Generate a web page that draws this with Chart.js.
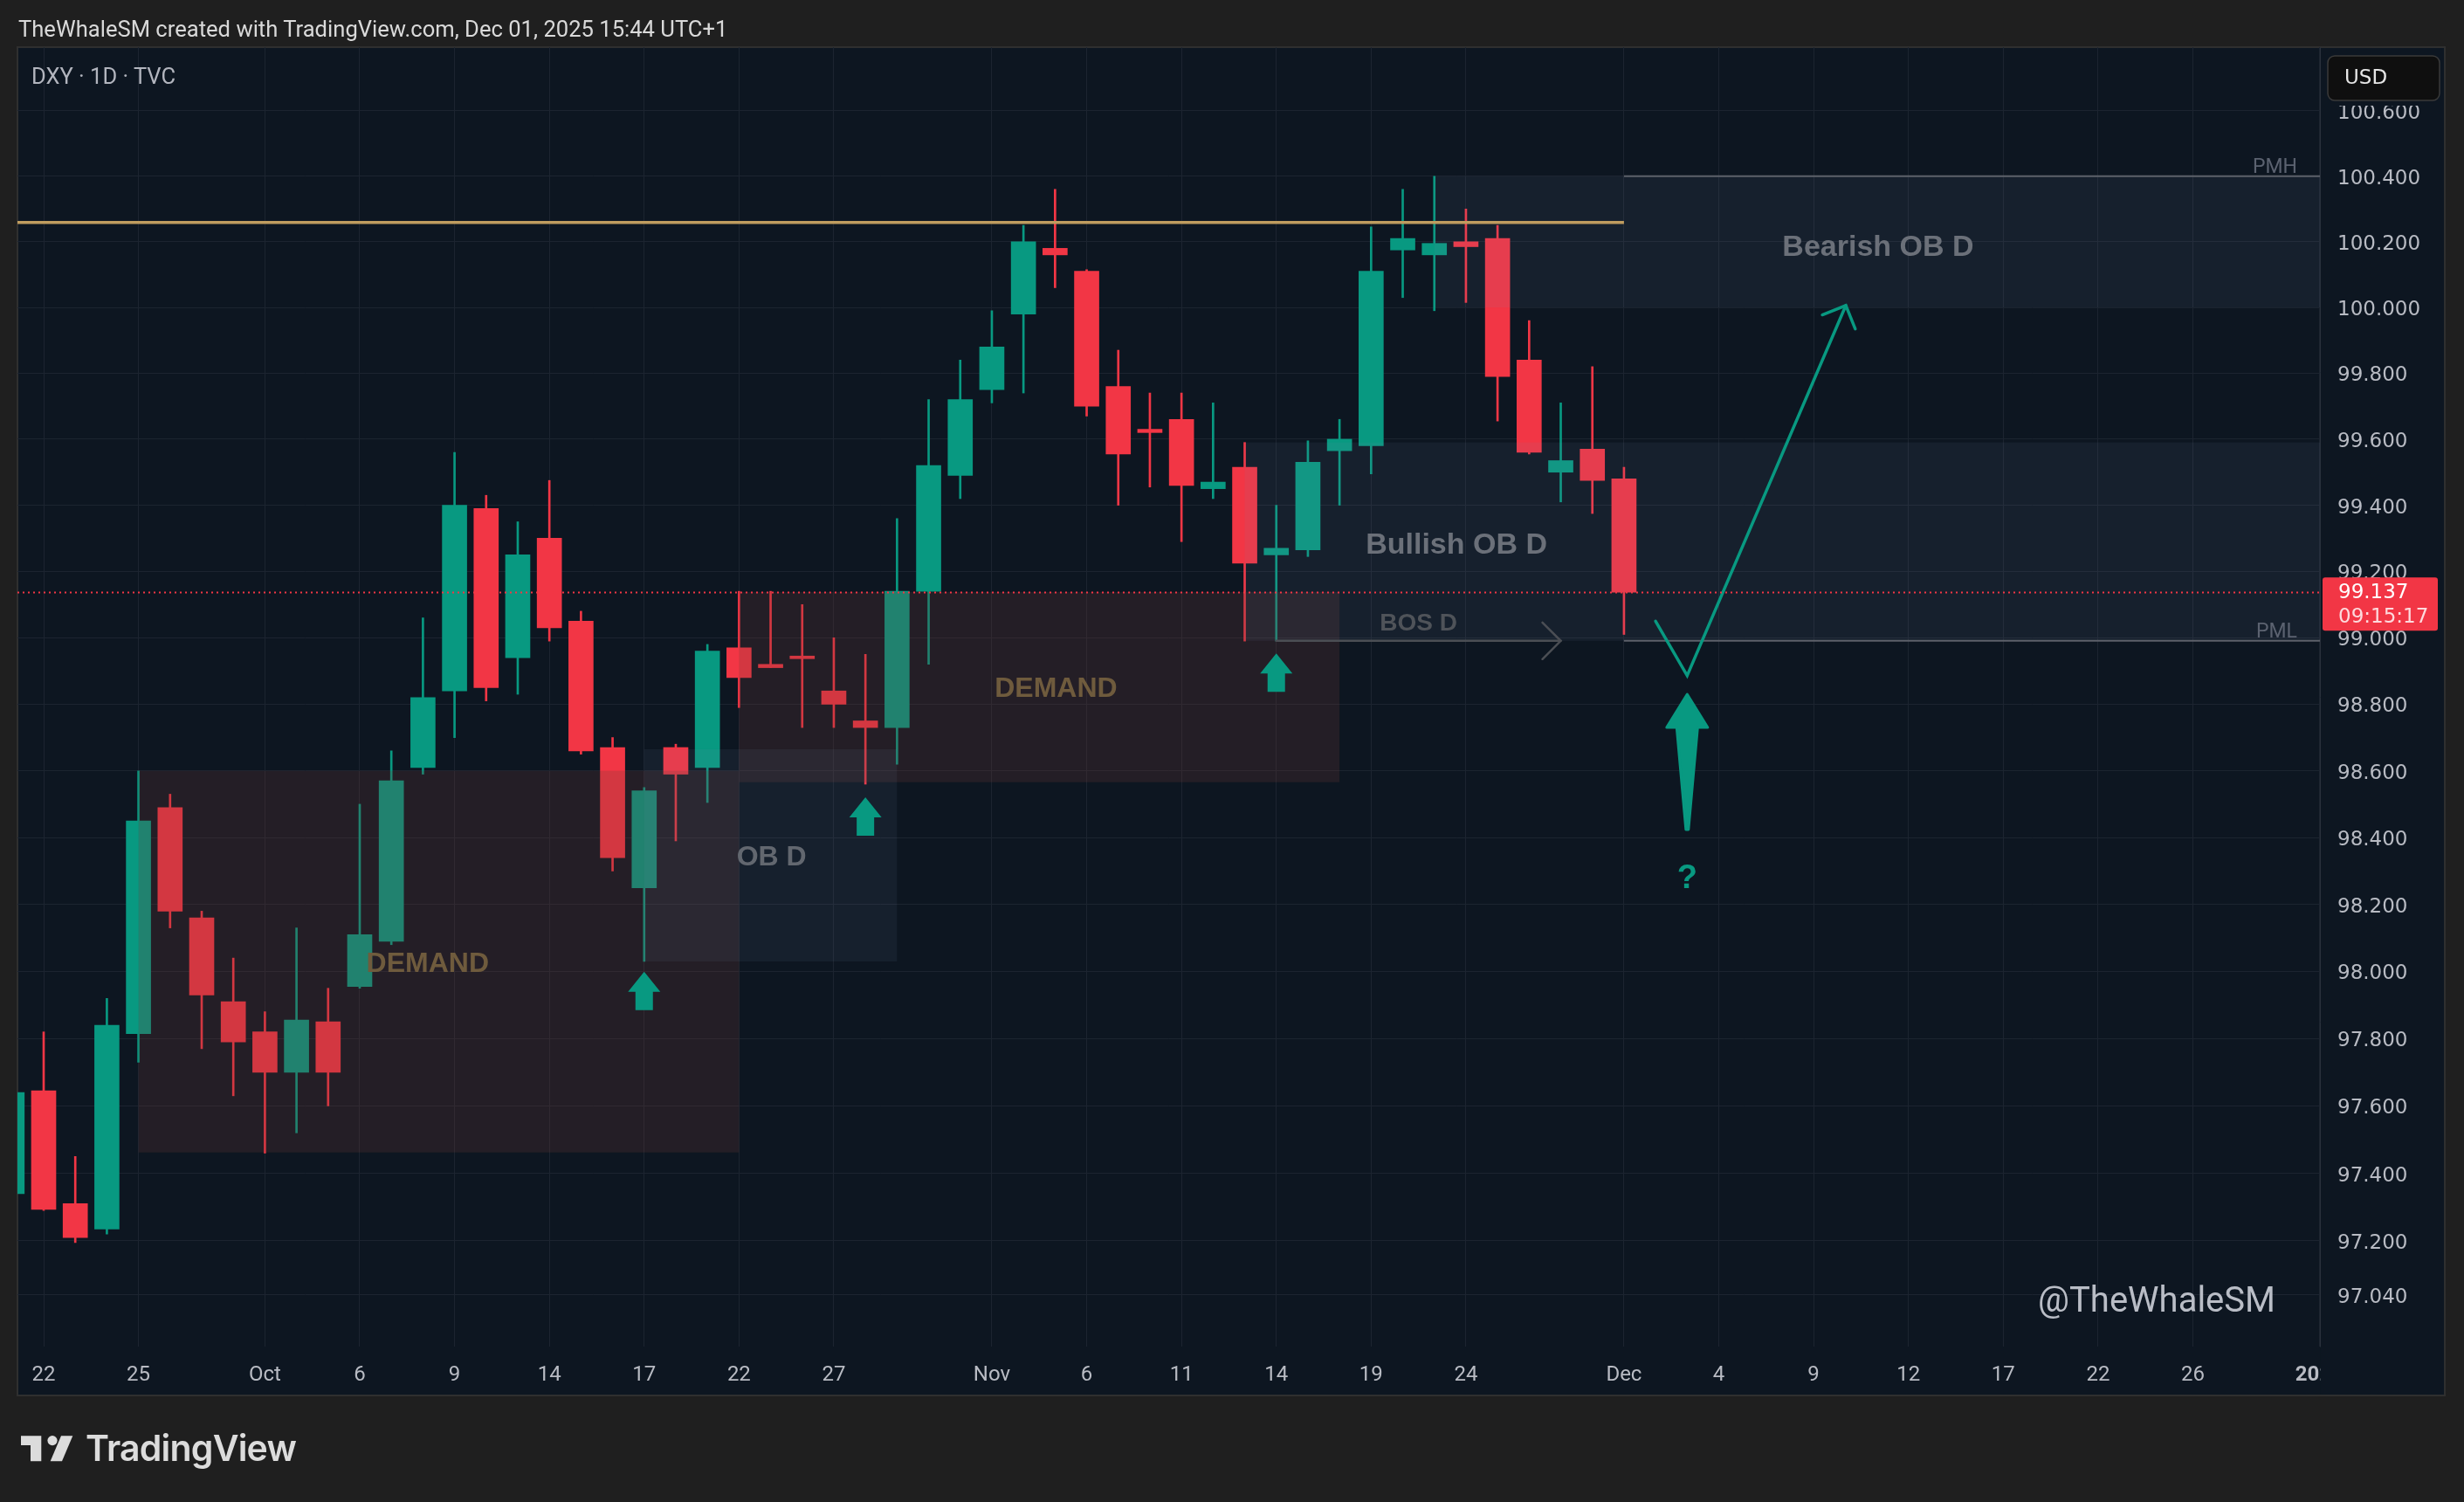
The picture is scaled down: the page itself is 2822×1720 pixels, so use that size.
<!DOCTYPE html>
<html>
<head>
<meta charset="utf-8">
<title>DXY · 1D · TVC</title>
<script src="https://cdn.jsdelivr.net/npm/chart.js@4.4.1/dist/chart.umd.min.js"></script>
<style>
  html, body { margin:0; padding:0; width:2822px; height:1720px; background:#1f1f1f; overflow:hidden; }
  #c { position:absolute; left:0; top:0; }
  .ov { position:absolute; white-space:nowrap; margin:0; }
  #hdr { left:21px; top:17px; font:400 25.6px Roboto, "Liberation Sans", sans-serif; color:#d9d9d9; line-height:32px; }
  #sym { left:36px; top:72px; font:400 25.5px Roboto, sans-serif; color:#b2b5be; line-height:30px; }
  #wm { right:216px; top:1465px; font:400 40px Roboto, sans-serif; color:#b9bdc6; line-height:48px; }
  #logotext { left:98px; top:1633px; font:600 41px Inter, Roboto, sans-serif; color:#dcdcdc; line-height:50px; letter-spacing:-0.8px; }
</style>
</head>
<body>
<canvas id="c" width="2822" height="1720"></canvas>
<div class="ov" id="hdr">TheWhaleSM created with TradingView.com, Dec 01, 2025 15:44 UTC+1</div>
<div class="ov" id="sym">DXY · 1D · TVC</div>
<div class="ov" id="wm">@TheWhaleSM</div>
<svg class="ov" style="left:0;top:1610px" width="100" height="100" viewBox="0 1610 100 100">
  <path d="M24 1644.3 H47.3 V1673.3 H35 V1655 H24 Z" fill="#dcdcdc"/>
  <circle cx="60" cy="1649.6" r="5.6" fill="#dcdcdc"/>
  <path d="M70 1644.3 H83.3 L71 1673.3 H57.7 Z" fill="#dcdcdc"/>
</svg>
<div class="ov" id="logotext">TradingView</div>
<script>
// ---------- DATA ----------
// trading-day index: 0 = Sep 22 2025, 50 = Dec 01 2025
const candleIdx = [-1,0,1,2,3,4,5,6,7,8,9,10,11,12,13,14,15,16,17,18,19,20,21,22,23,24,25,26,27,28,29,30,31,32,33,34,35,36,37,38,39,40,41,42,43,44,45,46,47,48,49,50];
const opens  = [97.34,97.645,97.31,97.235,97.815,98.49,98.16,97.91,97.82,97.70,97.85,97.955,98.09,98.61,98.84,99.39,98.94,99.30,99.05,98.67,98.25,98.67,98.61,98.97,98.92,98.945,98.84,98.75,98.73,99.14,99.49,99.75,99.98,100.18,100.11,99.76,99.63,99.66,99.45,99.515,99.25,99.265,99.565,99.58,100.175,100.16,100.20,100.21,99.84,99.50,99.57,99.48];
const highs  = [97.70,97.82,97.45,97.92,98.60,98.53,98.18,98.04,97.88,98.13,97.95,98.50,98.66,99.06,99.56,99.43,99.35,99.475,99.08,98.70,98.55,98.68,98.98,99.14,99.14,99.10,99.00,98.95,99.36,99.72,99.84,99.99,100.25,100.36,100.115,99.87,99.74,99.74,99.71,99.59,99.40,99.595,99.66,100.245,100.36,100.40,100.30,100.25,99.96,99.71,99.82,99.515];
const lows   = [97.31,97.29,97.195,97.22,97.73,98.13,97.77,97.63,97.46,97.52,97.60,97.95,98.08,98.59,98.70,98.81,98.83,98.99,98.65,98.30,98.03,98.39,98.505,98.79,98.91,98.73,98.73,98.56,98.62,98.92,99.42,99.71,99.74,100.06,99.67,99.40,99.455,99.29,99.42,98.99,98.99,99.245,99.40,99.495,100.03,99.99,100.015,99.655,99.555,99.41,99.375,99.01];
const closes = [97.64,97.293,97.21,97.84,98.45,98.18,97.93,97.79,97.70,97.855,97.70,98.11,98.57,98.82,99.40,98.85,99.25,99.03,98.66,98.34,98.54,98.59,98.96,98.88,98.91,98.937,98.80,98.73,99.14,99.52,99.72,99.88,100.20,100.16,99.70,99.555,99.62,99.46,99.47,99.225,99.27,99.53,99.60,100.11,100.21,100.195,100.185,99.79,99.56,99.535,99.475,99.137];

const xTickIdx    = [0,3,7,10,13,16,19,22,25,30,33,36,39,42,45,50,53,56,59,62,65,68,72];
const xTickLabels = ['22','25','Oct','6','9','14','17','22','27','Nov','6','11','14','19','24','Dec','4','9','12','17','22','26','2026'];
const yTickValues = [100.6,100.4,100.2,100.0,99.8,99.6,99.4,99.2,99.0,98.8,98.6,98.4,98.2,98.0,97.8,97.6,97.4,97.2,97.04];

const lastPrice = 99.137;
const countdown = '09:15:17';

// zones: [fromIdx, toIdx (null = right edge), high, low]
const demandZones = [[3,22,98.60,97.462],[22,41,99.138,98.566]];
const obZones     = [[19,27,98.665,98.03],[38,null,99.59,98.991],[44,null,100.40,100.0]];
const resistance  = [-1,50,100.259];
const pmhLine     = [50,100.40];
const pmlLine     = [50,98.991];
const bosLine     = [39,48,98.991];
const zoneLabels  = [['DEMAND',12.15,98.03],['DEMAND',32.03,98.852],['OB D',23.03,98.347],['Bullish OB D',44.7,99.287],['BOS D',43.5,99.05],['Bearish OB D',58.04,100.189]];
const upArrows    = [[19,97.999],[26,98.521],[39,98.953]];
const pathIdx     = [51,52,57.02];
const pathPrice   = [99.05,98.886,100.006];
const bigArrow    = [52,98.83,98.424];
const questionMark= [52,98.285];

// ---------- STYLE ----------
const GREEN = '#089981', RED = '#f23645', BG = '#0d1621', GRID = '#1c2430';
const TEXT_DY = 3;
const labelStyle = {
  'DEMAND':       {font:'bold 32px "Liberation Sans", Arial, sans-serif', color:'#6f5b3d'},
  'OB D':         {font:'bold 32px "Liberation Sans", Arial, sans-serif', color:'#62676f'},
  'Bullish OB D': {font:'bold 34px "Liberation Sans", Arial, sans-serif', color:'#6b7079'},
  'Bearish OB D': {font:'bold 34px "Liberation Sans", Arial, sans-serif', color:'#6b7079'},
  'BOS D':        {font:'bold 28px "Liberation Sans", Arial, sans-serif', color:'#4f5359'}
};

const candleColors = candleIdx.map((_, i) => closes[i] >= opens[i] ? GREEN : RED);
const wickData = candleIdx.map((x, i) => ({x, y:[lows[i], highs[i]]}));
const bodyData = candleIdx.map((x, i) => ({x, y:[opens[i], closes[i]]}));

function upArrowPath(c, x, t) {
  c.beginPath();
  c.moveTo(x, t); c.lineTo(x + 18.5, t + 23); c.lineTo(x + 10, t + 23); c.lineTo(x + 10, t + 44);
  c.lineTo(x - 10, t + 44); c.lineTo(x - 10, t + 23); c.lineTo(x - 18.5, t + 23); c.closePath();
}

const annot = {
  id: 'annot',
  beforeDraw(chart) {
    const c = chart.ctx;
    c.save();
    c.fillStyle = BG;
    c.fillRect(20, 54, 2780, 1544);
    c.strokeStyle = '#2f2f2f'; c.lineWidth = 2;
    c.strokeRect(20, 54, 2780, 1544);
    c.restore();
  },
  afterDatasetsDraw(chart) {
    const c = chart.ctx, xs = chart.scales.x, ys = chart.scales.y, a = chart.chartArea;
    const X = v => xs.getPixelForValue(v == null ? xs.max + 1 : v);
    const Y = v => ys.getPixelForValue(v);
    c.save();
    c.beginPath(); c.rect(a.left, a.top, a.right - a.left, a.bottom - a.top); c.clip();

    // zones
    c.fillStyle = 'rgba(113,60,54,0.24)';
    demandZones.forEach(z => c.fillRect(X(z[0]), Y(z[2]), X(z[1]) - X(z[0]), Y(z[3]) - Y(z[2])));
    c.fillStyle = 'rgba(120,140,165,0.095)';
    obZones.forEach(z => c.fillRect(X(z[0]), Y(z[2]), X(z[1]) - X(z[0]), Y(z[3]) - Y(z[2])));

    // resistance line
    c.strokeStyle = '#bf9c5f'; c.lineWidth = 3.5;
    c.beginPath(); c.moveTo(X(resistance[0]), Y(resistance[2])); c.lineTo(X(resistance[1]), Y(resistance[2])); c.stroke();

    // PMH / PML
    c.strokeStyle = '#5d616a'; c.lineWidth = 2;
    [pmhLine, pmlLine].forEach(l => { c.beginPath(); c.moveTo(X(l[0]), Y(l[1])); c.lineTo(a.right, Y(l[1])); c.stroke(); });
    c.font = '23px Roboto, sans-serif'; c.fillStyle = '#5b6270'; c.textAlign = 'right'; c.textBaseline = 'middle';
    c.fillText('PMH', a.right - 26, Y(pmhLine[1]) - 10);
    c.fillText('PML', a.right - 26, Y(pmlLine[1]) - 10);

    // BOS arrow
    c.strokeStyle = '#4b4e54'; c.lineWidth = 2.5; c.lineCap = 'round';
    const by = Y(bosLine[2]), bx0 = X(bosLine[0]), bx1 = X(bosLine[1]);
    c.beginPath(); c.moveTo(bx0, by); c.lineTo(bx1, by); c.stroke();
    c.beginPath(); c.moveTo(bx1 - 21, by - 21); c.lineTo(bx1, by); c.lineTo(bx1 - 21, by + 21); c.stroke();

    // zone labels
    c.textAlign = 'center'; c.textBaseline = 'middle';
    zoneLabels.forEach(l => {
      const s = labelStyle[l[0]];
      c.font = s.font; c.fillStyle = s.color;
      c.fillText(l[0], X(l[1]), Y(l[2]) + TEXT_DY);
    });

    // small up arrows
    c.fillStyle = GREEN;
    upArrows.forEach(u => { upArrowPath(c, X(u[0]), Y(u[1])); c.fill(); });

    // projected path
    c.strokeStyle = GREEN; c.lineWidth = 3.5; c.lineCap = 'round'; c.lineJoin = 'miter';
    c.beginPath();
    pathIdx.forEach((v, i) => { const px = X(v), py = Y(pathPrice[i]); if (i === 0) c.moveTo(px, py); else c.lineTo(px, py); });
    c.stroke();
    const n = pathIdx.length;
    const ex = X(pathIdx[n - 1]), ey = Y(pathPrice[n - 1]), sx = X(pathIdx[n - 2]), sy = Y(pathPrice[n - 2]);
    const ang = Math.atan2(ey - sy, ex - sx), hl = 29;
    c.beginPath();
    c.moveTo(ex + hl * Math.cos(ang + Math.PI - Math.PI / 4), ey + hl * Math.sin(ang + Math.PI - Math.PI / 4));
    c.lineTo(ex, ey);
    c.lineTo(ex + hl * Math.cos(ang + Math.PI + Math.PI / 4), ey + hl * Math.sin(ang + Math.PI + Math.PI / 4));
    c.stroke();

    // big arrow
    const ax = X(bigArrow[0]), at = Y(bigArrow[1]), ab = Y(bigArrow[2]);
    c.beginPath();
    c.moveTo(ax, at); c.lineTo(ax + 23.5, at + 38); c.lineTo(ax + 12, at + 38); c.lineTo(ax + 1.5, ab);
    c.lineTo(ax - 1.5, ab); c.lineTo(ax - 12, at + 38); c.lineTo(ax - 23.5, at + 38); c.closePath();
    c.fillStyle = GREEN; c.fill();
    c.lineJoin = 'round'; c.lineWidth = 3; c.strokeStyle = GREEN; c.stroke();

    c.font = 'bold 38px "Liberation Sans", Arial, sans-serif'; c.fillStyle = GREEN;
    c.fillText('?', X(questionMark[0]), Y(questionMark[1]) + TEXT_DY);

    // last price dotted line
    c.setLineDash([2, 4]); c.lineCap = 'butt'; c.strokeStyle = RED; c.lineWidth = 2;
    const ly = Math.round(Y(lastPrice)) + 0.5;
    c.beginPath(); c.moveTo(a.left, ly); c.lineTo(a.right, ly); c.stroke();
    c.restore();
  },
  afterDraw(chart) {
    const c = chart.ctx, a = chart.chartArea, ys = chart.scales.y;
    c.save();
    // corner under price scale
    c.fillStyle = BG;
    c.fillRect(a.right + 0.5, a.bottom, 2800 - a.right - 1.5, 1598 - a.bottom - 1);
    // currency button
    c.fillRect(a.right + 1, 56, 2800 - a.right - 3, 65);
    c.beginPath(); c.roundRect(2666, 64, 128, 51, 8);
    c.fillStyle = '#0f0f0f'; c.fill(); c.strokeStyle = '#3a3a3a'; c.lineWidth = 1.5; c.stroke();
    c.font = '23px "DejaVu Sans", sans-serif'; c.fillStyle = '#e6e6e6'; c.textAlign = 'left'; c.textBaseline = 'middle';
    c.fillText('USD', 2685, 90);
    // last price label
    const py = ys.getPixelForValue(lastPrice);
    c.beginPath(); c.roundRect(2660, py - 17, 132, 61, 3); c.fillStyle = RED; c.fill();
    c.fillStyle = '#ffffff'; c.font = '23px "DejaVu Sans", sans-serif';
    c.fillText(lastPrice.toFixed(3), 2678, py + 1);
    c.fillStyle = 'rgba(255,255,255,0.82)';
    c.fillText(countdown, 2678, py + 29);
    c.restore();
  }
};

new Chart(document.getElementById('c'), {
  type: 'bar',
  data: {
    datasets: [
      {data: wickData, backgroundColor: candleColors, barThickness: 2, grouped: false, order: 2, borderWidth: 0},
      {data: bodyData, backgroundColor: candleColors, barThickness: 28, grouped: false, order: 1, borderWidth: 0}
    ]
  },
  options: {
    responsive: false,
    animation: false,
    devicePixelRatio: 1,
    layout: {padding: {left: 20, top: 54, right: 22, bottom: 122}},
    plugins: {legend: {display: false}, tooltip: {enabled: false}},
    scales: {
      x: {
        type: 'linear', min: -0.829, max: 72.02, offset: false,
        grid: {color: GRID, lineWidth: 1, drawTicks: false, offset: false},
        border: {display: false},
        afterBuildTicks: s => { s.ticks = xTickIdx.map(v => ({value: v})); },
        afterFit: s => { s.height = 56; s.paddingLeft = 0; s.paddingRight = 0; },
        ticks: {
          autoSkip: false, maxRotation: 0, minRotation: 0, padding: 19, color: '#b8bbc3',
          font: ctx => ({family: 'Roboto', size: 24, weight: xTickLabels[ctx.index] === '2026' ? 'bold' : 'normal'}),
          callback: (v, i) => xTickLabels[i]
        }
      },
      y: {
        type: 'logarithmic', position: 'right', min: 96.888, max: 100.795,
        grid: {color: GRID, lineWidth: 1, drawTicks: false},
        border: {display: true, color: '#29303b', width: 1},
        afterBuildTicks: s => { s.ticks = yTickValues.map(v => ({value: v})); },
        afterFit: s => { s.width = 143; s.paddingTop = 0; s.paddingBottom = 0; },
        ticks: {
          padding: 20, color: '#b8bbc3', autoSkip: false, labelOffset: 3,
          font: {family: '"DejaVu Sans"', size: 23},
          callback: v => Number(v).toFixed(3)
        }
      }
    }
  },
  plugins: [annot]
});
</script>
</body>
</html>
